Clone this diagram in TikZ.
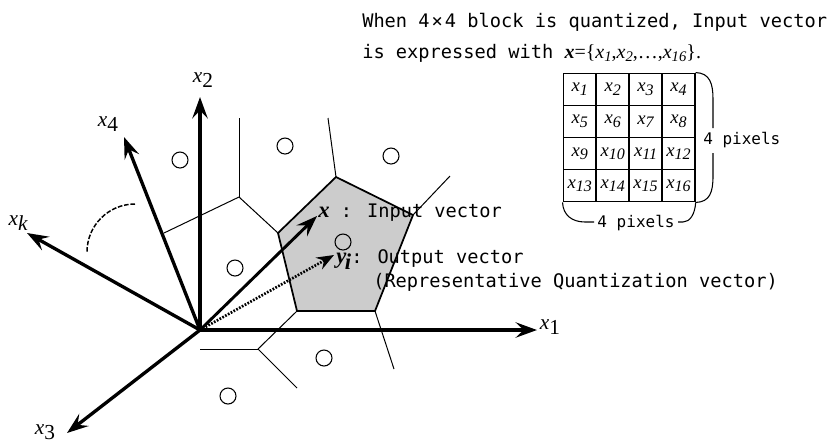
\documentclass[tikz,border=0pt]{standalone}
\usepackage{fontspec}
\setmainfont{Liberation Serif}
\newfontfamily\monofnt{DejaVu Sans Mono}
\newfontfamily\tnr{Liberation Serif}
\usetikzlibrary{arrows.meta}
\newcommand{\axlab}[1]{{\tnr\fontsize{16}{16}\selectfont\itshape x\upshape\raisebox{-4pt}{#1}}}
\newcommand{\subx}[2]{{\itshape x\raisebox{-2.5pt}{\fontsize{#2}{#2}\selectfont #1}}}
\begin{document}
\begin{tikzpicture}[x=0.75pt,y=-0.75pt,
  tip/.style={-{Stealth[length=16pt,width=11.5pt,inset=6pt]}},
  axis/.style={tip,line width=2.5pt},
  vecx/.style={tip,line width=2.2pt},
  vecy/.style={-{Stealth[length=13pt,width=10pt,inset=4.5pt]},line width=2pt,dash pattern=on 1.3pt off 1.1pt},
  thinl/.style={line width=0.75pt},
  bracel/.style={line width=0.8pt},
  cellbox/.style={draw,line width=1.1pt,minimum width=24.7pt,minimum height=24.1pt,inner sep=0pt,font=\tnr\fontsize{14}{14}\selectfont},
  dot/.style={circle,draw,line width=0.8pt,minimum size=12pt,inner sep=0pt},
  lab/.style={inner sep=0pt},
  mtext/.style={inner sep=0pt,font=\monofnt\fontsize{14}{14}\selectfont},
  ptext/.style={inner sep=0pt,font=\monofnt\fontsize{12}{12}\selectfont},
]
\path[use as bounding box] (0,0) rectangle (834,444);

% axis origin and tips
\coordinate (O) at (200,330);
\coordinate (t1) at (537,330);
\coordinate (t2) at (200,97);
\coordinate (t3) at (67,433);
\coordinate (t4) at (124,137);
\coordinate (tk) at (27,233);
\coordinate (tx) at (317,216);
\coordinate (ty) at (334,255);

% pentagon (Voronoi cell of y_i)
\coordinate (P1) at (336,177);
\coordinate (P2) at (413,215);
\coordinate (P3) at (375,311);
\coordinate (P4) at (297,311);
\coordinate (P5) at (278,233);
\filldraw[fill=black!20,line width=1.3pt,line join=miter] (P1)--(P2)--(P3)--(P4)--(P5)--cycle;

% other Voronoi edges
\coordinate (V1) at (239,197);
\coordinate (V2) at (258,349);
\coordinate (E1) at (328,118);
\coordinate (E2) at (450,176);
\coordinate (E3) at (239,118);
\coordinate (E4) at (164,233);
\coordinate (E5) at (200,349);
\coordinate (E6) at (297,388);
\coordinate (E7) at (394,369);
\draw[thinl] (P1)--(E1);
\draw[thinl] (P2)--(E2);
\draw[thinl] (P5)--(V1);
\draw[thinl] (V1)--(E3);
\draw[thinl] (V1)--(E4);
\draw[thinl] (P4)--(V2);
\draw[thinl] (V2)--(E5);
\draw[thinl] (V2)--(E6);
\draw[thinl] (P3)--(E7);

% representative vectors (circles)
\node[dot] (d1) at (180,160) {};
\node[dot] (d2) at (285,146) {};
\node[dot] (d3) at (391,156) {};
\node[dot] (d4) at (343,242) {};
\node[dot] (d5) at (235,268) {};
\node[dot] (d6) at (324,358) {};
\node[dot] (d7) at (228,396) {};

% dashed arc between x4 and xk
\draw[line width=1.1pt,dash pattern=on 3.5pt off 1.3pt] (135,204) .. controls (108.5,204) and (87,225.5) .. (87,252);

% axes
\draw[axis] (O)--(t1);
\draw[axis] (O)--(t2);
\draw[axis] (O)--(t3);
\draw[axis] (O)--(t4);
\draw[axis] (O)--(tk);

% vectors
\draw[vecx] (O)--(tx);
\draw[vecy] (O)--(ty);

% axis labels
\node[lab] (l1) at (550,327) {\axlab{1}};
\node[lab] (l2) at (203,80) {\axlab{2}};
\node[lab] (l3) at (45,432) {\axlab{3}};
\node[lab] (l4) at (108,124) {\axlab{4}};
\node[lab] (lk) at (18,223) {{\tnr\fontsize{16}{16}\selectfont\itshape x\raisebox{-4pt}{k}}};

% vector labels
\node[mtext,anchor=base west] (lx) at (318,217) {{\tnr\fontsize{17}{17}\selectfont\bfseries\itshape x} : Input vector};
\node[mtext,anchor=base west] (ly) at (336,263) {{\tnr\fontsize{17}{17}\selectfont\bfseries\itshape y\kern-1pt\raisebox{-5pt}{i}}: Output vector};
\node[mtext,anchor=base west] (lr) at (373,287) {(Representative Quantization vector)};

% heading
\node[mtext,anchor=base west] (h1) at (362,27) {When 4\kern1.5pt×\kern1.5pt4 block is quantized, Input vector};
\node[mtext,anchor=base west] (h2) at (362,58) {is expressed with {\tnr\fontsize{15}{15}\selectfont{\bfseries\itshape x}=\{\subx{1}{11},\subx{2}{11},\ldots,\subx{16}{11}\}.}};

% 4x4 block
\foreach \j in {0,1,2,3}{
  \foreach \i in {0,1,2,3}{
    \pgfmathtruncatemacro{\n}{4*\j+\i+1}
    \node[cellbox] (c\n) at ({579.75+32.9*\i},{89.35+32.1*\j}) {\subx{\n}{12}};
  }
}

% braces
\draw[bracel] (c4.north east) .. controls (710,73) and (713,84) .. (713,99) -- (713,128);
\draw[bracel] (713,153) -- (713,176) .. controls (713,192) and (710,202) .. (c16.south east);
\draw[bracel] (c13.south west) .. controls (563,215) and (572,222) .. (585,222) -- (594,222);
\draw[bracel] (678,222) -- (683,222) .. controls (690,222) and (695,214) .. (c16.south east);
\node[ptext,anchor=west] (pr) at (703,140) {4 pixels};
\node[ptext] (pb) at (636,223) {4 pixels};
\end{tikzpicture}
\end{document}
